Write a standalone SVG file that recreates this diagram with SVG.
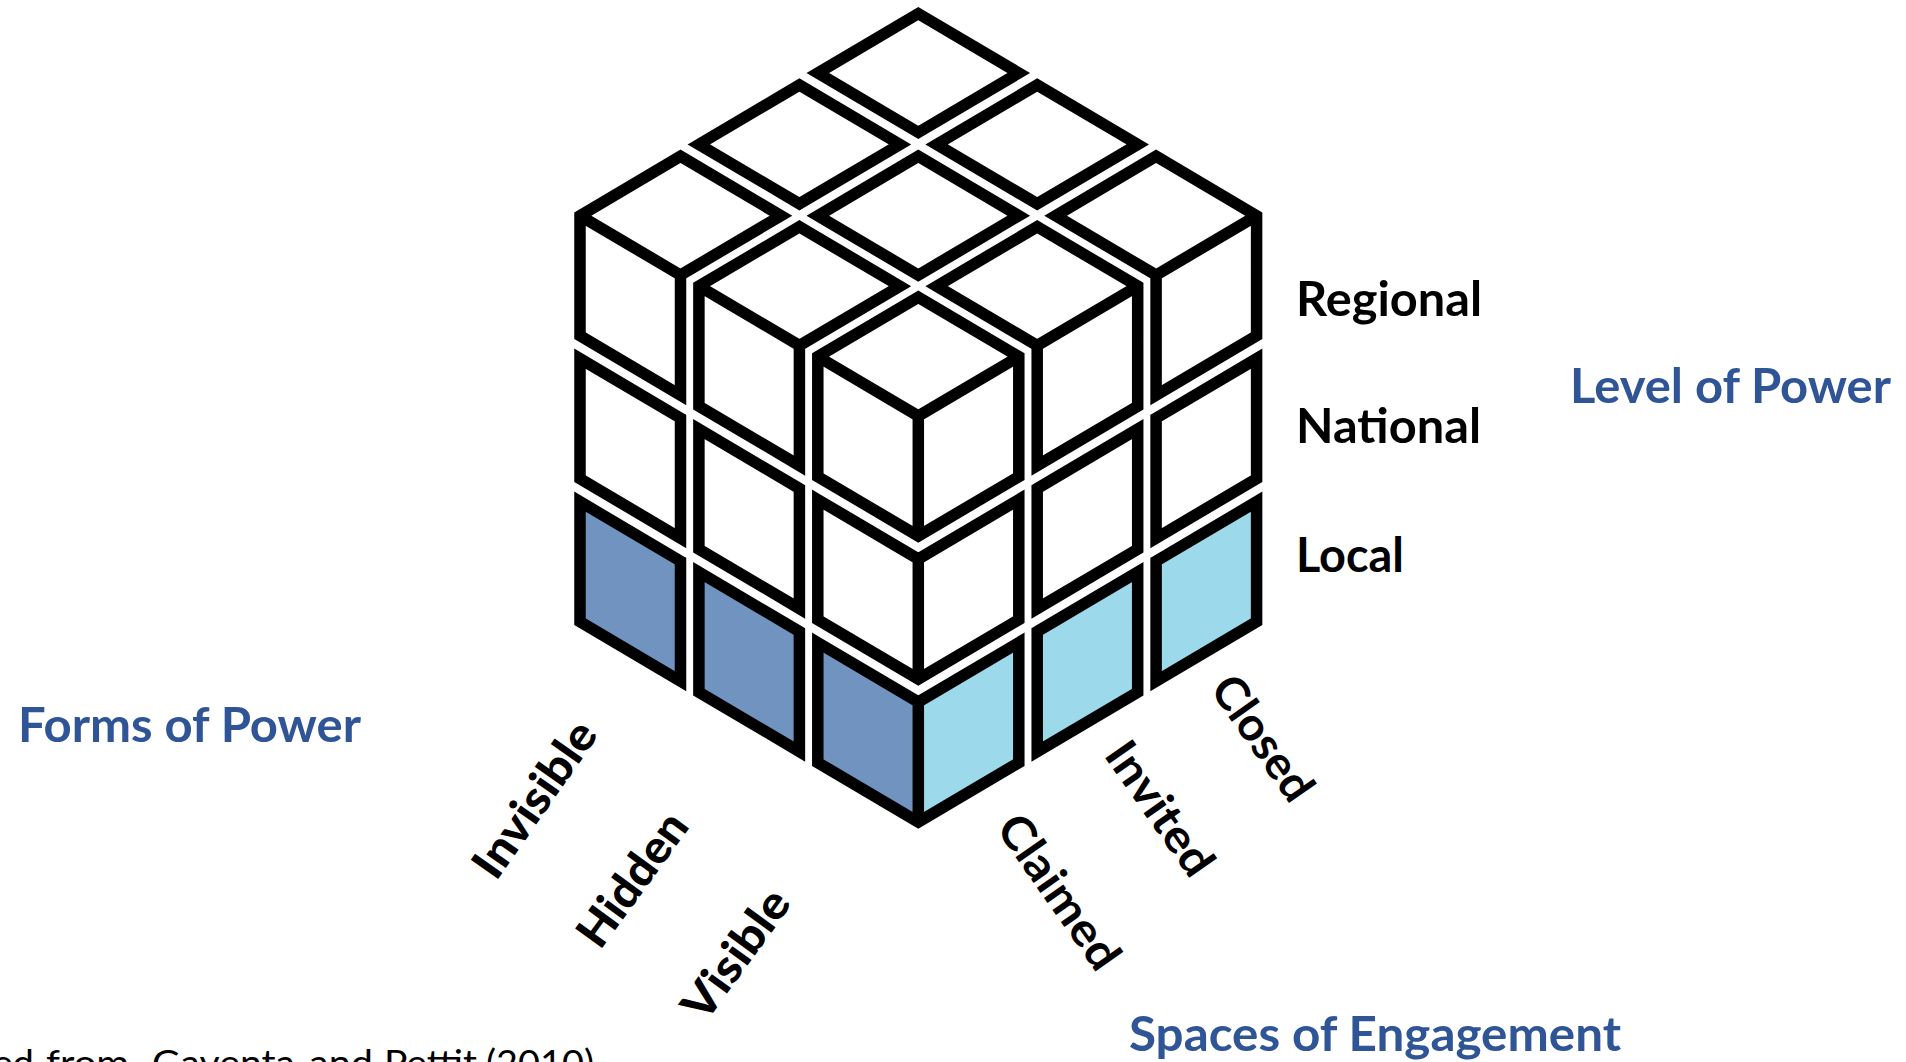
<svg xmlns="http://www.w3.org/2000/svg" width="1906" height="1062" viewBox="0 0 1906 1062">
  <style>
    .ln { fill: none; stroke: #000000; stroke-width: 11.5; stroke-linejoin: miter; stroke-miterlimit: 10; }
    .dark { fill: #7093C0; }
    .light { fill: #9CD9EA; }
    .lbl { font-family: Lato, "Liberation Sans", sans-serif; font-weight: 700; font-size: 48px; fill: #000000; }
    .rotL { font-family: Lato, "Liberation Sans", sans-serif; font-weight: 900; font-size: 46px; fill: #000000; }
    .rotR { font-family: Lato, "Liberation Sans", sans-serif; font-weight: 700; font-size: 46px; fill: #000000; }
    .title { font-family: Lato, "Liberation Sans", sans-serif; font-weight: 700; font-size: 48px; fill: #2F5597; }
    .cite { font-family: Lato, "Liberation Sans", sans-serif; font-weight: 400; font-size: 37px; fill: #000000; }
  </style>
  <defs>
    <!-- face fills of one small cube, anchored at its front-top corner -->
    <polygon id="fLeft" points="0,0 -100.5,-59.4 -100.5,60.6 0,120"/>
    <polygon id="fRight" points="0,0 100.5,-59.4 100.5,60.6 0,120"/>
    <!-- outlines: silhouette plus inner edges, per set of visible faces -->
    <path id="oTop" d="M0,0 L100.5,-59.4 L0,-118.8 L-100.5,-59.4 Z"/>
    <path id="oTopLeft" d="M0,-118.8 L100.5,-59.4 L0,0 L0,120 L-100.5,60.6 L-100.5,-59.4 Z M-100.5,-59.4 L0,0"/>
    <path id="oTopRight" d="M0,-118.8 L100.5,-59.4 L100.5,60.6 L0,120 L0,0 L-100.5,-59.4 Z M0,0 L100.5,-59.4"/>
    <path id="oHex" d="M0,-118.8 L100.5,-59.4 L100.5,60.6 L0,120 L-100.5,60.6 L-100.5,-59.4 Z M-100.5,-59.4 L0,0 L100.5,-59.4 M0,0 L0,120"/>
    <path id="oLeft" d="M0,0 L-100.5,-59.4 L-100.5,60.6 L0,120 Z"/>
    <path id="oRight" d="M0,0 L100.5,-59.4 L100.5,60.6 L0,120 Z"/>
    <path id="oChev" d="M-100.5,-59.4 L0,0 L100.5,-59.4 L100.5,60.6 L0,120 L-100.5,60.6 Z M0,0 L0,120"/>
  </defs>
  <rect width="1906" height="1062" fill="#ffffff"/>

  <g id="cube">
    <g id="top-layer">
      <g id="cube-t00"><use href="#oTop" class="ln" x="918.3" y="132.4"/></g>
      <g id="cube-t10"><use href="#oTop" class="ln" x="1037.2" y="203.8"/></g>
      <g id="cube-t01"><use href="#oTop" class="ln" x="799.4" y="203.8"/></g>
      <g id="cube-t11"><use href="#oTop" class="ln" x="918.3" y="275.1"/></g>
      <g id="cube-t20"><use href="#oTopRight" class="ln" x="1156.1" y="275.1"/></g>
      <g id="cube-t21"><use href="#oTopRight" class="ln" x="1037.2" y="345.55"/></g>
      <g id="cube-t02"><use href="#oTopLeft" class="ln" x="680.5" y="275.1"/></g>
      <g id="cube-t12"><use href="#oTopLeft" class="ln" x="799.4" y="345.55"/></g>
      <g id="cube-t22"><use href="#oHex" class="ln" x="918.3" y="416"/></g>
    </g>
    <g id="middle-layer">
      <g id="cube-m02"><use href="#oLeft" class="ln" x="680.5" y="418.1"/></g>
      <g id="cube-m12"><use href="#oLeft" class="ln" x="799.4" y="488.55"/></g>
      <g id="cube-m20"><use href="#oRight" class="ln" x="1156.1" y="418.1"/></g>
      <g id="cube-m21"><use href="#oRight" class="ln" x="1037.2" y="488.55"/></g>
      <g id="cube-m22"><use href="#oChev" class="ln" x="918.3" y="559"/></g>
    </g>
    <g id="bottom-layer">
      <g id="cube-b02">
        <use href="#fLeft" class="dark" x="680.5" y="561.1"/>
        <use href="#oLeft" class="ln" x="680.5" y="561.1"/>
      </g>
      <g id="cube-b12">
        <use href="#fLeft" class="dark" x="799.4" y="631.55"/>
        <use href="#oLeft" class="ln" x="799.4" y="631.55"/>
      </g>
      <g id="cube-b20">
        <use href="#fRight" class="light" x="1156.1" y="561.1"/>
        <use href="#oRight" class="ln" x="1156.1" y="561.1"/>
      </g>
      <g id="cube-b21">
        <use href="#fRight" class="light" x="1037.2" y="631.55"/>
        <use href="#oRight" class="ln" x="1037.2" y="631.55"/>
      </g>
      <g id="cube-b22">
        <use href="#fLeft" class="dark" x="918.3" y="702"/>
        <use href="#fRight" class="light" x="918.3" y="702"/>
        <use href="#oChev" class="ln" x="918.3" y="702"/>
      </g>
    </g>
  </g>

  <g id="level-labels">
    <g id="label-regional"><text class="lbl" x="1296" y="316" textLength="186" lengthAdjust="spacingAndGlyphs">Regional</text></g>
    <g id="label-national"><text class="lbl" x="1296" y="443" textLength="185" lengthAdjust="spacingAndGlyphs">National</text></g>
    <g id="label-local"><text class="lbl" x="1296" y="572" textLength="108" lengthAdjust="spacingAndGlyphs">Local</text></g>
  </g>

  <g id="forms-labels">
    <g id="label-invisible"><text class="rotL" transform="translate(496,882) rotate(-55)" textLength="180" lengthAdjust="spacingAndGlyphs">Invisible</text></g>
    <g id="label-hidden"><text class="rotL" transform="translate(600,951) rotate(-54)" textLength="154" lengthAdjust="spacingAndGlyphs">Hidden</text></g>
    <g id="label-visible"><text class="rotL" transform="translate(705,1024) rotate(-54)" textLength="149" lengthAdjust="spacingAndGlyphs">Visible</text></g>
  </g>

  <g id="space-labels">
    <g id="label-claimed"><text class="rotR" transform="translate(995,828) rotate(55)" textLength="178" lengthAdjust="spacingAndGlyphs">Claimed</text></g>
    <g id="label-invited"><text class="rotR" transform="translate(1103,755) rotate(55)" textLength="153" lengthAdjust="spacingAndGlyphs">Invited</text></g>
    <g id="label-closed"><text class="rotR" transform="translate(1209,689) rotate(55)" textLength="142" lengthAdjust="spacingAndGlyphs">Closed</text></g>
  </g>

  <g id="axis-titles">
    <g id="title-level"><text class="title" x="1570" y="403" textLength="321" lengthAdjust="spacingAndGlyphs">Level of Power</text></g>
    <g id="title-forms"><text class="title" x="18" y="742" textLength="343" lengthAdjust="spacingAndGlyphs">Forms of Power</text></g>
    <g id="title-spaces"><text class="title" x="1129" y="1051" textLength="492" lengthAdjust="spacingAndGlyphs">Spaces of Engagement</text></g>
  </g>

  <g id="citation">
    <text class="cite" y="1076"><tspan x="-108" textLength="142" lengthAdjust="spacingAndGlyphs">Adapted</tspan><tspan x="46" textLength="83" lengthAdjust="spacingAndGlyphs">from</tspan><tspan x="152" textLength="143" lengthAdjust="spacingAndGlyphs">Gaventa</tspan><tspan x="309" textLength="64" lengthAdjust="spacingAndGlyphs">and</tspan><tspan x="384" textLength="93" lengthAdjust="spacingAndGlyphs">Pettit</tspan><tspan x="486" textLength="108" lengthAdjust="spacingAndGlyphs">(2010)</tspan></text>
  </g>
</svg>
